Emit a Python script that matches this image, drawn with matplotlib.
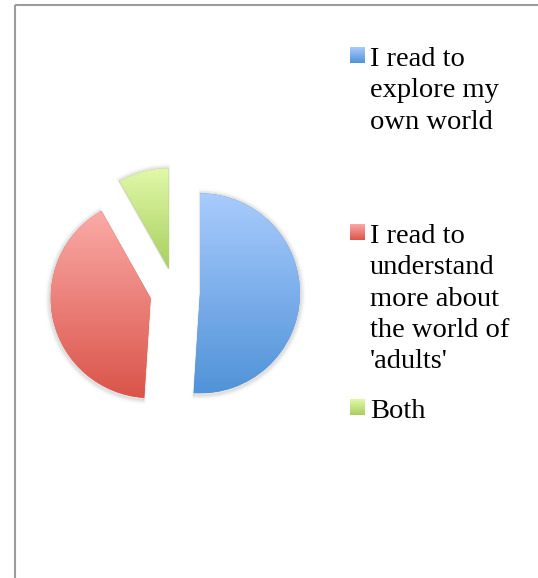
import numpy as np
import matplotlib.pyplot as plt
from matplotlib.patches import Wedge, Rectangle
from matplotlib.colors import LinearSegmentedColormap

# survey answers: why do you read?
labels = ["I read to\nexplore my\nown world",
          "I read to\nunderstand\nmore about\nthe world of\n'adults'",
          "Both"]
counts = [25, 20, 4]

# light-to-dark fill for each slice
tops = ['#a9cbfd', '#fbaaa7', '#e1f8a9']
bottoms = ['#5093d8', '#da5449', '#a8d05f']

W, H = 538, 578
fig = plt.figure(figsize=(W / 100, H / 100), dpi=100)

# full-figure axes in pixel units (y down) for frame and legend
ax = fig.add_axes([0, 0, 1, 1])
ax.set_xlim(0, W)
ax.set_ylim(H, 0)
ax.axis('off')
ax.add_patch(Rectangle((15, 5), 700, 700, facecolor='none',
                       edgecolor='#9c9c9c', linewidth=1.5))

# pie axes: 100 px per unit
cx, cy, half = 175, 292.5, 150
pax = fig.add_axes([(cx - half) / W, (H - cy - half) / H, 2 * half / W, 2 * half / H])
wedges, _ = pax.pie(counts, explode=[0.25] * 3, startangle=90, counterclock=False,
                    radius=1, wedgeprops=dict(edgecolor='none'))

grad = np.linspace(0, 1, 256).reshape(-1, 1)
for w, top, bot in zip(wedges, tops, bottoms):
    # soft shadow under the slice
    for grow, a in [(0.04, 0.02), (0.025, 0.035), (0.012, 0.05)]:
        sh = Wedge((w.center[0], w.center[1] - 0.01), w.r + grow, w.theta1, w.theta2,
                   facecolor='black', edgecolor='black', linewidth=grow * 60,
                   alpha=a, zorder=0)
        pax.add_patch(sh)
    w.set_facecolor(bot)
    w.set_zorder(1)
    bb = w.get_path().get_extents()
    cmap = LinearSegmentedColormap.from_list('', [top, bot])
    im = pax.imshow(grad, extent=(bb.x0, bb.x1, bb.y0, bb.y1), origin='upper',
                    cmap=cmap, aspect='auto', interpolation='bilinear', zorder=2)
    im.set_clip_path(w)

pax.set_xlim(-1.5, 1.5)
pax.set_ylim(-1.5, 1.5)
pax.set_aspect('auto')
pax.axis('off')

# legend
first_baseline = [66, 243, 418]
line_step = 31.3
for lab, base, top, bot in zip(labels, first_baseline, tops, bottoms):
    cmap = LinearSegmentedColormap.from_list('', [top, bot])
    ax.imshow(grad, extent=(350, 365, base - 3, base - 19), origin='upper',
              cmap=cmap, aspect='auto', interpolation='bilinear')
    for i, line in enumerate(lab.split('\n')):
        ax.text(370, base + i * line_step, line, fontsize=20.5, family='Liberation Serif',
                color='black', va='baseline', ha='left')

ax.set_xlim(0, W)
ax.set_ylim(H, 0)

fig.savefig('out.png', dpi=100, facecolor='white')
